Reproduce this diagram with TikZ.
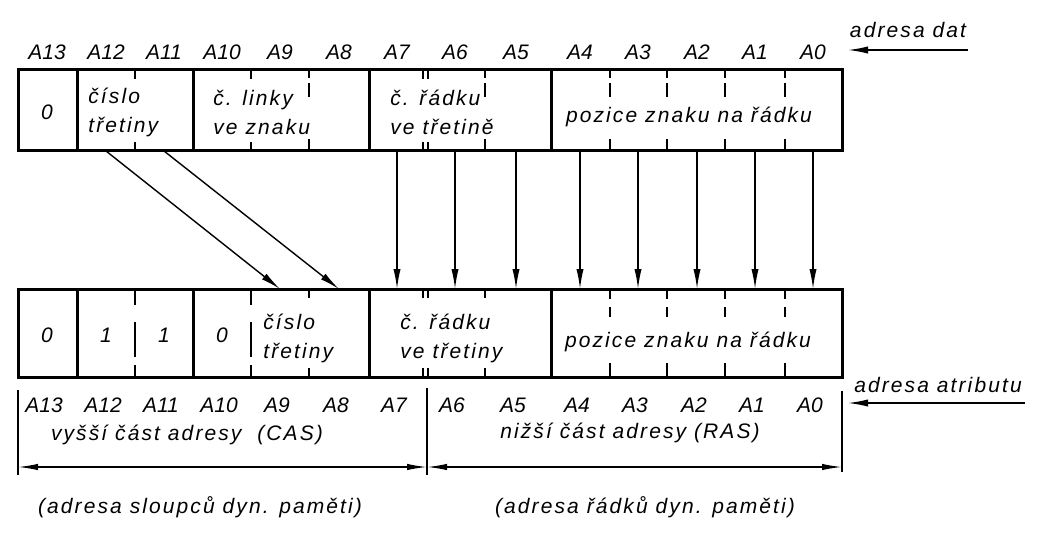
\documentclass[tikz,border=0pt]{standalone}
\usepackage{fontspec}
\setmainfont{Liberation Sans}[LetterSpace=10]
\newfontfamily\bitfont{Liberation Sans}
\usetikzlibrary{arrows.meta, positioning}

\begin{document}
\begin{tikzpicture}
        [
            x=0.5pt, y=-0.5pt,
            every node/.style={font=\itshape\fontsize{10.5}{14.5}\selectfont, inner sep=0pt},
            bitno/.style={font=\bitfont\itshape\fontsize{10.5}{14.5}\selectfont},
            reg/.style={draw, line width=1.5pt, outer sep=0pt, inner sep=0pt, anchor=north west, minimum width=412pt},
            solidsep/.style={line width=1.5pt},
            tickmark/.style={line width=1.2pt},
            dsep/.style={line width=1.2pt, dash pattern={on 4pt off 2.5pt on 7pt off 21pt on 6pt}},
            dsepb/.style={line width=1.2pt, dash pattern={on 5pt off 4pt on 5pt off 23pt on 7pt}},
            ldsep/.style={line width=1.2pt, dash pattern={on 8pt off 8.5pt on 17.5pt off 4pt on 6pt}},
            bar/.style={line width=1pt},
            bitarrow/.style={line width=0.7pt, -{Latex[length=10pt, width=3.6pt]}},
            dimarrow/.style={line width=0.7pt, {Latex[length=10pt, width=3.2pt]}-{Latex[length=10pt, width=3.2pt]}},
        ]
        \useasboundingbox (0,0) rectangle (1052,534);

        % the two registers
        \node[reg, minimum height=40.5pt] (datreg) at (18,70) {};
        \node[reg, minimum height=44pt] (atrreg) at (18,289) {};

        % field borders
        \foreach \x in {77,193,369,551} {
            \draw[solidsep] (\x,70) -- (\x,151);
            \draw[solidsep] (\x,289) -- (\x,377);
        }
        \foreach \x in {135,251,423,428} {
            \draw[tickmark] (\x,70) -- (\x,79);
            \draw[tickmark] (\x,151) -- (\x,142);
        }
        \foreach \x in {309,423,428,485} {
            \draw[tickmark] (\x,289) -- (\x,298);
            \draw[tickmark] (\x,377) -- (\x,368);
        }
        \foreach \x in {309,485,610,667,725,785}
            \draw[dsep] (\x,70) -- (\x,151);
        \foreach \x in {610,667,725,785}
            \draw[dsepb] (\x,289) -- (\x,377);
        \foreach \x in {135,251}
            \draw[ldsep] (\x,289) -- (\x,377);

        % bit numbers
        \foreach \bit/\x in {A13/47,A12/106,A11/164,A10/222,A9/280,A8/339,A7/397,
                             A6/455,A5/516,A4/580,A3/638,A2/697,A1/755,A0/813} {
            \node[bitno] (t\bit) at (\x,52) {\bit};
            \node[bitno] (b\bit) at (\x-3,405) {\bit};
        }

        % contents, data address
        \node[bitno] (dz) at (47,112) {0};
        \node[anchor=west, align=left] (dcislo) at (88,112) {číslo\\třetiny};
        \node[anchor=west, align=left] (dlinky) at (213,112) {č. linky\\ve znaku};
        \node[anchor=west, align=left] (dradku) at (390,112) {č. řádku\\ve třetině};
        \node (dpozice) at (689,117) {pozice znaku na řádku};

        % contents, attribute address
        \node[bitno] (az) at (47,335) {0};
        \node[bitno] (aja) at (106,335) {1};
        \node[bitno] (ajb) at (164,335) {1};
        \node[bitno] (azb) at (222,335) {0};
        \node[anchor=west, align=left] (acislo) at (263,338) {číslo\\třetiny};
        \node[anchor=west, align=left] (aradku) at (400,338) {č. řádku\\ve třetiny};
        \node (apozice) at (688,342) {pozice znaku na řádku};

        % bit moves
        \draw[bitarrow] (datreg.south -| tA12) -- (atrreg.north -| tA9);
        \draw[bitarrow] (datreg.south -| tA11) -- (atrreg.north -| tA8);
        \foreach \bit in {A7,A6,A5,A4,A3,A2,A1,A0}
            \draw[bitarrow] (datreg.south -| t\bit) -- (atrreg.north -| t\bit);

        % address inputs
        \node (adat) at (908,30) {adresa dat};
        \coordinate (datin) at (968,50);
        \draw[bitarrow] (datin) -- ([xshift=3pt]datin -| datreg.east);
        \node (aatr) at (938,385) {adresa atributu};
        \coordinate (atrin) at (1025,403);
        \draw[bitarrow] (atrin) -- ([xshift=3pt]atrin -| atrreg.east);

        % CAS / RAS split
        \coordinate (casl) at (18,467);
        \coordinate (split) at (427,467);
        \coordinate (rasr) at (842,467);
        \draw[bar] (18,390) -- (18,475);
        \draw[bar] (427,388) -- (427,475);
        \draw[bar] (842,391) -- (842,472);
        \draw[dimarrow] (casl) -- (split);
        \draw[dimarrow] (split) -- (rasr);
        \node (cas) at (187,435) {vyšší část adresy \ (CAS)};
        \node (ras) at (630,433) {nižší část adresy (RAS)};
        \node (casdyn) at (200,507) {(adresa sloupců dyn. paměti)};
        \node (rasdyn) at (645,507) {(adresa řádků dyn. paměti)};
    \end{tikzpicture}
\end{document}
